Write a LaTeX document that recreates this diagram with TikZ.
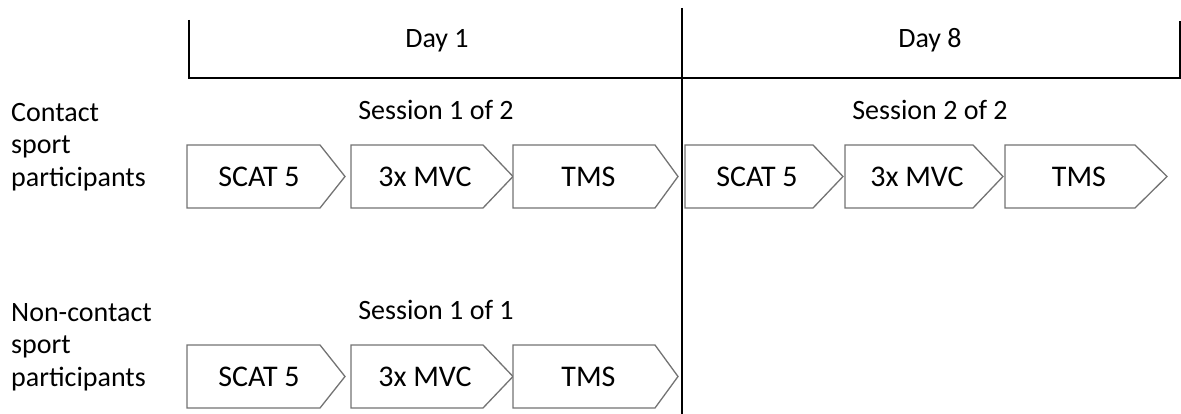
\documentclass[tikz,border=0pt]{standalone}
\usepackage{fontspec}
\setmainfont{Carlito}
\tikzset{
  chevline/.style={draw=black!55, line width=1.3pt, fill=white, line join=miter},
  boxlabel/.style={inner sep=0pt, anchor=center, font=\fontsize{30}{35}\selectfont},
  toplabel/.style={inner sep=0pt, anchor=base, font=\fontsize{28}{33}\selectfont},
  sidelabel/.style={inner sep=0pt, anchor=north west, align=left, font=\fontsize{28}{32.5}\selectfont},
  frameline/.style={draw=black, line width=2pt},
}
% #1 name, #2 left x, #3 shoulder x, #4 tip x, #5 top y, #6 bottom y, #7 text
\newcommand\chevbox[7]{%
  \path[chevline] (#2,#5) -- (#3,#5) -- (#4,{(#5+#6)/2}) -- (#3,#6) -- (#2,#6) -- cycle;
  \node[boxlabel] (#1) at ({(#2+#4)/2-7},{(#5+#6)/2}) {#7};
}
\begin{document}
\begin{tikzpicture}[x=1pt,y=-1pt]
\useasboundingbox (0,0) rectangle (1181,414);
% frame
\coordinate (bl) at (189,20);
\coordinate (blc) at (189,78);
\coordinate (brc) at (1180,78);
\coordinate (br) at (1180,21);
\coordinate (vt) at (682,8);
\coordinate (vb) at (682,414);
\draw[frameline] (bl) -- (blc) -- (brc) -- (br);
\draw[frameline] (vt) -- (vb);
% top labels
\node[toplabel] (day1) at (437,48) {Day 1};
\node[toplabel] (day8) at (930,48) {Day 8};
\node[toplabel] (s12) at (436,120) {Session 1 of 2};
\node[toplabel] (s22) at (930,120) {Session 2 of 2};
\node[toplabel] (s11) at (436,319) {Session 1 of 1};
% side labels
\node[sidelabel] (contact) at (11,103) {Contact\\sport\\participants};
\node[sidelabel] (noncontact) at (11,303) {Non-contact\\sport\\participants};
% row 1
\chevbox{a1}{187}{320}{345}{145}{208}{SCAT 5}
\chevbox{a2}{351}{483}{513}{145}{208}{3x MVC}
\chevbox{a3}{513}{655}{678}{145}{208}{TMS}
% row 2 (day 8)
\chevbox{b1}{685}{813}{843}{145}{208}{SCAT 5}
\chevbox{b2}{845}{973}{1003}{145}{208}{3x MVC}
\chevbox{b3}{1005}{1135}{1167}{145}{208}{TMS}
% row 3
\chevbox{c1}{187}{320}{345}{345}{408}{SCAT 5}
\chevbox{c2}{351}{483}{513}{345}{408}{3x MVC}
\chevbox{c3}{513}{655}{678}{345}{408}{TMS}
\end{tikzpicture}
\end{document}
